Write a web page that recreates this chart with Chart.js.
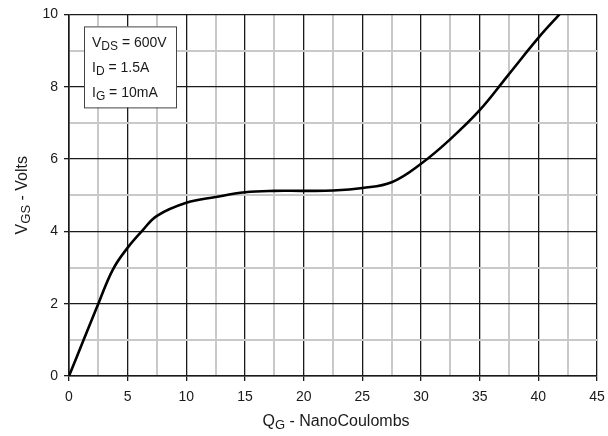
<!DOCTYPE html>
<html>
<head>
<meta charset="utf-8">
<script src="https://cdn.jsdelivr.net/npm/chart.js@4.4.0/dist/chart.umd.min.js"></script>
<style>
	html, body { margin: 0; padding: 0; background: #fff; }
	#wrapper-gate-charge { width: 608px; height: 436px; }
</style>
</head>
<body>
<div id="wrapper-gate-charge"><canvas id="gate-charge"></canvas></div>
<script>
// Gate charge curve
const gateCharge = [0, 1.25, 2.5, 3.75, 5, 6.25, 7.5, 10, 12.5, 15, 17.5, 20, 22.5, 25, 27.5, 30, 32.5, 35, 37.5, 40, 41.8];
const gateVoltage = [0, 1.0, 2.0, 2.95, 3.55, 4.02, 4.43, 4.79, 4.95, 5.08, 5.12, 5.12, 5.13, 5.2, 5.36, 5.87, 6.55, 7.35, 8.35, 9.35, 10];

const xRange = [0, 45];
const yRange = [0, 10];
const xMajor = 5;
const yMajor = 2;

// test conditions box: [symbol, subscript, rest]
const conditions = [
	["V", "DS", " = 600V"],
	["I", "D", " = 1.5A"],
	["I", "G", " = 10mA"],
];

const FONT = "'Liberation Sans', Arial, sans-serif";
const DARK = "#1a1a1a";
const LIGHT = "#c9c9c9";

// text with a subscript, left aligned at x
function subText(ctx, x, y, main, sub, rest, size, subSize) {
	ctx.font = size + "px " + FONT;
	ctx.fillText(main, x, y);
	x += ctx.measureText(main).width;
	ctx.font = subSize + "px " + FONT;
	ctx.fillText(sub, x, y + 3);
	x += ctx.measureText(sub).width;
	ctx.font = size + "px " + FONT;
	ctx.fillText(rest, x, y);
	return x + ctx.measureText(rest).width;
}

function subWidth(ctx, main, sub, rest, size, subSize) {
	ctx.font = size + "px " + FONT;
	let w = ctx.measureText(main).width + ctx.measureText(rest).width;
	ctx.font = subSize + "px " + FONT;
	return w + ctx.measureText(sub).width;
}

const labelsPlugin = {
	id: "labels",
	afterDraw(chart) {
		const ctx = chart.ctx;
		const area = chart.chartArea;
		ctx.save();
		ctx.textBaseline = "middle";

		// conditions box
		const bx = area.left + 15, by = area.top + 12, bw = 92, bh = 81;
		ctx.fillStyle = "#fff";
		ctx.fillRect(bx, by, bw, bh);
		ctx.strokeStyle = "#444";
		ctx.lineWidth = 1;
		ctx.strokeRect(bx + 0.5, by + 0.5, bw, bh);
		ctx.fillStyle = DARK;
		conditions.forEach((c, i) => {
			subText(ctx, bx + 8, by + 17 + i * 25, c[0], c[1], c[2], 14, 12);
		});

		// x axis title
		const xw = subWidth(ctx, "Q", "G", " - NanoCoulombs", 16, 13);
		subText(ctx, (area.left + area.right) / 2 - xw / 2 + 3, 422, "Q", "G", " - NanoCoulombs", 16, 13);

		// y axis title
		const yw = subWidth(ctx, "V", "GS", " - Volts", 16, 13);
		ctx.translate(23, (area.top + area.bottom) / 2);
		ctx.rotate(-Math.PI / 2);
		subText(ctx, -yw / 2, 0, "V", "GS", " - Volts", 16, 13);
		ctx.restore();
	},
};

const points = gateCharge.map((q, i) => ({ x: q, y: gateVoltage[i] }));

new Chart(document.getElementById("gate-charge").getContext("2d"), {
	type: "scatter",
	data: {
		datasets: [
			{
				data: points,
				showLine: true,
				borderColor: "#000",
				borderWidth: 2.6,
				pointRadius: 0,
				tension: 0.4,
			},
		],
	},
	options: {
		responsive: true,
		maintainAspectRatio: false,
		animation: false,
		layout: { padding: { top: 13, right: 11, left: 0, bottom: 0 } },
		plugins: {
			legend: { display: false },
			tooltip: { enabled: false },
		},
		scales: {
			x: {
				type: "linear",
				min: xRange[0],
				max: xRange[1],
				ticks: {
					stepSize: xMajor / 2,
					autoSkip: false,
					maxRotation: 0,
					padding: 8,
					color: DARK,
					font: { family: FONT, size: 14 },
					callback: (v) => (v % xMajor === 0 ? v : ""),
				},
				grid: {
					color: (c) => (c.tick && c.tick.value % xMajor === 0 ? DARK : LIGHT),
					lineWidth: (c) => (c.tick && c.tick.value % xMajor === 0 ? 1.3 : 2),
					tickColor: (c) => (c.tick && c.tick.value % xMajor === 0 ? DARK : "rgba(0,0,0,0)"),
					tickLength: 5,
				},
				border: { color: DARK, width: 1.6 },
				afterFit: (scale) => {
					scale.height = 60;
					scale.paddingRight = 0;
					scale.paddingLeft = 0;
				},
			},
			y: {
				min: yRange[0],
				max: yRange[1],
				ticks: {
					stepSize: 1,
					autoSkip: false,
					padding: 6,
					color: DARK,
					font: { family: FONT, size: 14 },
					callback: (v) => (v % yMajor === 0 ? v : ""),
				},
				grid: {
					color: (c) => (c.tick && c.tick.value % yMajor === 0 ? DARK : LIGHT),
					lineWidth: (c) => (c.tick && c.tick.value % yMajor === 0 ? 1.3 : 2),
					tickColor: (c) => (c.tick && c.tick.value % yMajor === 0 ? DARK : "rgba(0,0,0,0)"),
					tickLength: 5,
				},
				border: { color: DARK, width: 1.6 },
				afterFit: (scale) => { scale.width = 69; },
			},
		},
	},
	plugins: [labelsPlugin],
});
</script>
</body>
</html>
